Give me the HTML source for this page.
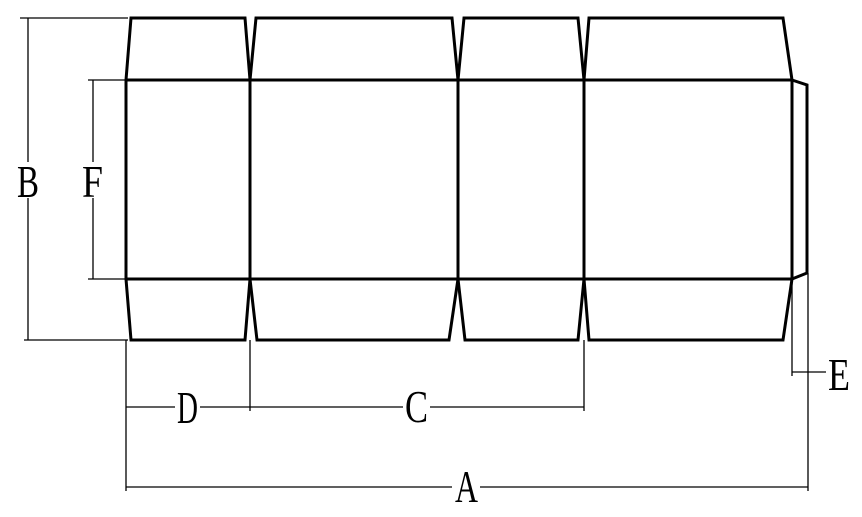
<!DOCTYPE html>
<html><head><style>html,body{margin:0;padding:0;background:#fff}svg{display:block}.t{font-family:"Liberation Serif","Times New Roman",serif;font-size:46px;fill:#000}</style></head>
<body>
<svg width="862" height="517" viewBox="0 0 862 517" xmlns="http://www.w3.org/2000/svg">
<g fill="none" stroke="#000" stroke-width="3" stroke-linejoin="miter">
<line x1="126" y1="80" x2="792" y2="80"/>
<line x1="126" y1="279" x2="792" y2="279"/>
<line x1="126" y1="80" x2="126" y2="279"/>
<line x1="250" y1="80" x2="250" y2="279"/>
<line x1="458" y1="80" x2="458" y2="279"/>
<line x1="584" y1="80" x2="584" y2="279"/>
<line x1="792" y1="80" x2="792" y2="279"/>
<polyline points="126,80 131,18 245,18 250,80"/>
<polyline points="250,80 256,18 452,18 458,80"/>
<polyline points="458,80 464,18 578,18 584,80"/>
<polyline points="584,80 589,18 783,18 792,80"/>
<polyline points="126,279 131,340 245,340 250,279"/>
<polyline points="250,279 257,340 449,340 458,279"/>
<polyline points="458,279 465,340 578,340 584,279"/>
<polyline points="584,279 589,340 783,340 792,279"/>
<polyline points="792,80 807,85 807,273 792,279"/>
</g>
<g fill="none" stroke="#000" stroke-width="1.3">
<line x1="28" y1="18" x2="28" y2="340"/>
<line x1="20" y1="18" x2="128" y2="18"/>
<line x1="24" y1="340" x2="128" y2="340"/>
<line x1="93" y1="80" x2="93" y2="279"/>
<line x1="88" y1="80" x2="126" y2="80"/>
<line x1="88" y1="279" x2="126" y2="279"/>
<line x1="126" y1="340" x2="126" y2="491"/>
<line x1="250" y1="340" x2="250" y2="411"/>
<line x1="584" y1="340" x2="584" y2="411"/>
<line x1="792" y1="279" x2="792" y2="376"/>
<line x1="808" y1="273" x2="808" y2="491"/>
<line x1="126" y1="407" x2="584" y2="407"/>
<line x1="126" y1="487" x2="808" y2="487"/>
<line x1="792" y1="372" x2="826" y2="372"/>
</g>
<g fill="#fff">
<rect x="16" y="162" width="25" height="36"/>
<rect x="80" y="162" width="25" height="36"/>
<rect x="175" y="390" width="25" height="35"/>
<rect x="403" y="390" width="27" height="35"/>
<rect x="452" y="468" width="28" height="36"/>
</g>
<g>
<text class="t" x="17" y="197" textLength="22" lengthAdjust="spacingAndGlyphs">B</text>
<text class="t" x="82" y="197" textLength="21" lengthAdjust="spacingAndGlyphs">F</text>
<text class="t" x="177" y="423" textLength="21" lengthAdjust="spacingAndGlyphs">D</text>
<text class="t" x="405" y="422" textLength="23" lengthAdjust="spacingAndGlyphs">C</text>
<text class="t" x="455" y="502" textLength="23" lengthAdjust="spacingAndGlyphs">A</text>
<text class="t" x="828" y="390" textLength="22" lengthAdjust="spacingAndGlyphs">E</text>
</g>
</svg>
</body></html>
